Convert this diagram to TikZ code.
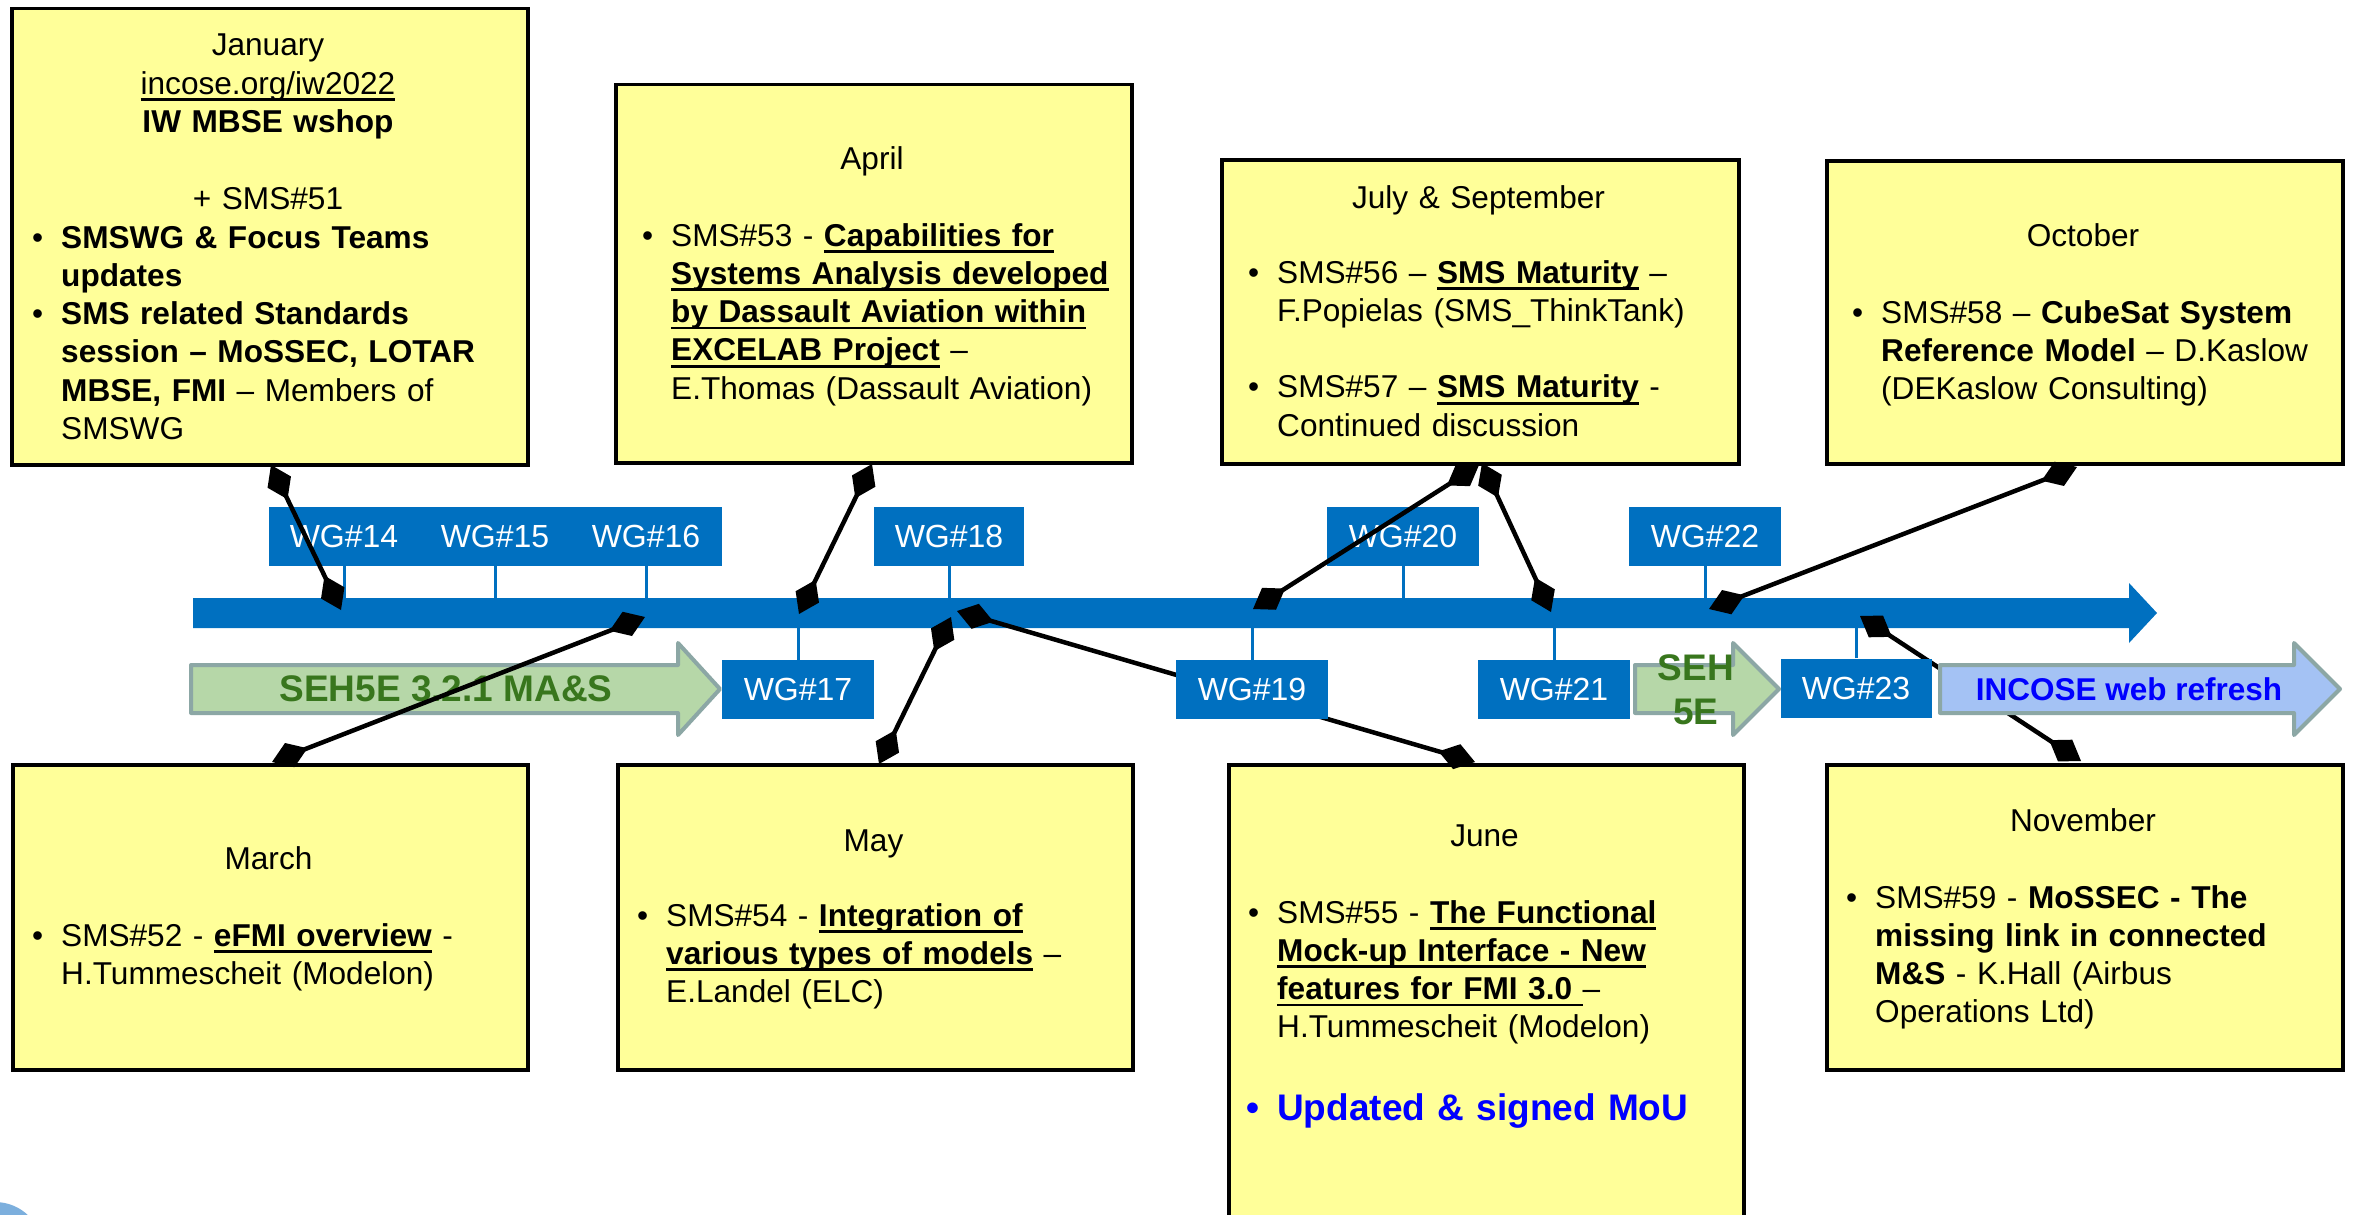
\documentclass[tikz,border=0pt]{standalone}
\usepackage{fontspec}
\setmainfont{Liberation Sans}
\usetikzlibrary{arrows.meta}
\definecolor{wgblue}{HTML}{0070C0}
\definecolor{yfill}{HTML}{FFFF99}
\definecolor{gfill}{HTML}{B6D7A8}
\definecolor{agray}{HTML}{8CA7A5}
\definecolor{dgreen}{HTML}{38761D}
\definecolor{bfill}{HTML}{A4C2F4}
\definecolor{logoblue}{HTML}{5B9BD5}
\newsavebox\ulbox
\newcommand{\myul}[1]{\leavevmode\sbox\ulbox{#1}\rlap{\rule[-6.7pt]{\wd\ulbox}{2.7pt}}\usebox\ulbox}
\newcommand{\bodyfont}{\fontsize{31.6pt}{38.3pt}\selectfont}
\newcommand{\wgfont}{\fontsize{32pt}{38pt}\selectfont}
\newcommand{\bigfont}{\fontsize{37pt}{44pt}\selectfont\bfseries}
\newcommand{\bul}{\leavevmode\llap{•\hspace{18pt}}}
\newcommand{\ub}[1]{\myul{\textbf{#1}}}
\begin{document}
\begin{tikzpicture}[x=1pt,y=-1pt,
  ybox/.style={draw=black, line width=3.5pt, fill=yfill, anchor=north west, inner sep=0pt},
  wgbox/.style={fill=wgblue, inner sep=0pt, minimum height=59pt, minimum width=152pt, text=white, font=\wgfont},
  wglabel/.style={inner sep=0pt, text=white, font=\wgfont},
  headtxt/.style={anchor=base, inner sep=0pt, font=\bodyfont, align=center, text width=480pt},
  listtxt/.style={anchor=base west, inner sep=0pt, font=\bodyfont, align=left, text width=470pt},
  conn/.style={line width=4.5pt, {Diamond[length=38pt,width=26pt]}-{Diamond[length=38pt,width=26pt]}},
  tickline/.style={draw=wgblue, line width=3pt},
  bigarrow/.style={line width=4pt, draw=agray, line join=round}]
\clip (0,0) rectangle (2354,1215);
\fill[white] (0,0) rectangle (2354,1215);
% partial logo
\fill[logoblue!80] (-5,1250) circle (48pt);

% yellow boxes
\node[ybox, minimum width=516pt, minimum height=456pt] (jan) at (10,7) {};
\node[ybox, minimum width=516pt, minimum height=378pt] (apr) at (614,83) {};
\node[ybox, minimum width=517pt, minimum height=304pt] (jul) at (1220,158) {};
\node[ybox, minimum width=516pt, minimum height=303pt] (oct) at (1825,159) {};
\node[ybox, minimum width=515pt, minimum height=305pt] (mar) at (11,763) {};
\node[ybox, minimum width=515pt, minimum height=305pt] (may) at (616,763) {};
\node[ybox, minimum width=515pt, minimum height=500pt] (jun) at (1227,763) {};
\node[ybox, minimum width=516pt, minimum height=305pt] (nov) at (1825,763) {};

% box texts
\node[headtxt] (janH) at (268,56) {January\\ \myul{incose.org/iw2022}\\ \textbf{IW MBSE wshop}\\[38.3pt] + SMS\#51};
\node[listtxt] (janL) at (61,248) {\bul\textbf{SMSWG \& Focus Teams}\\ \textbf{updates}\\ \bul\textbf{SMS related Standards}\\ \textbf{session – MoSSEC, LOTAR}\\ \textbf{MBSE, FMI} – Members of\\ SMSWG};

\node[headtxt] (aprH) at (872,169) {April};
\node[listtxt] (aprL) at (671,246) {\bul SMS\#53 - \ub{Capabilities for}\\ \ub{Systems Analysis developed}\\ \ub{by Dassault Aviation within}\\ \ub{EXCELAB Project} –\\ E.Thomas (Dassault Aviation)};

\node[headtxt] (julH) at (1478.5,208) {July \& September};
\node[listtxt] (julL) at (1277,283) {\bul SMS\#56 – \ub{SMS Maturity} –\\ F.Popielas (SMS\_ThinkTank)\\[38.3pt] \bul SMS\#57 – \ub{SMS Maturity} -\\ Continued discussion};

\node[headtxt] (octH) at (2083,246) {October};
\node[listtxt] (octL) at (1881,323) {\bul SMS\#58 – \textbf{CubeSat System}\\ \textbf{Reference Model} – D.Kaslow\\ (DEKaslow Consulting)};

\node[headtxt] (marH) at (268.5,869) {March};
\node[listtxt] (marL) at (61,946) {\bul SMS\#52 - \ub{eFMI overview} -\\ H.Tummescheit (Modelon)};

\node[headtxt] (mayH) at (873.5,851) {May};
\node[listtxt] (mayL) at (666,926) {\bul SMS\#54 - \ub{Integration of}\\ \ub{various types of models} –\\ E.Landel (ELC)};

\node[headtxt] (junH) at (1484.5,846) {June};
\node[listtxt] (junL) at (1277,923) {\bul SMS\#55 - \ub{The Functional}\\ \ub{Mock-up Interface - New}\\ \ub{features for FMI 3.0\ }–\\ H.Tummescheit (Modelon)};
\node[listtxt, font=\bigfont, text=blue] (mou) at (1277,1120) {\bul Updated \& signed MoU};

\node[headtxt] (novH) at (2083,831) {November};
\node[listtxt] (novL) at (1875,908) {\bul SMS\#59 - \textbf{MoSSEC - The}\\ \textbf{missing link in connected}\\ \textbf{M\&S} - K.Hall (Airbus\\ Operations Ltd)};

% timeline bar
\fill[wgblue] (193,598) -- (2129,598) -- (2129,583) -- (2157,613) -- (2129,643) -- (2129,628) -- (193,628) -- cycle;

% connector end points
\coordinate (c1a) at (271,465);  \coordinate (c1b) at (341,610);
\coordinate (c2a) at (645,617);  \coordinate (c2b) at (272,762);
\coordinate (c3a) at (872,464);  \coordinate (c3b) at (799,614);
\coordinate (c4a) at (951,617);  \coordinate (c4b) at (879,764);
\coordinate (c5a) at (957,611);  \coordinate (c5b) at (1475,762);
\coordinate (c6a) at (1479,465); \coordinate (c6b) at (1253,609);
\coordinate (c7a) at (1482,463); \coordinate (c7b) at (1551,612);
\coordinate (c8a) at (2077,467); \coordinate (c8b) at (1709,609);
\coordinate (c9a) at (1860,616); \coordinate (c9b) at (2081,761);

% connectors hidden behind WG#19 and the web arrow
\draw[conn] (c5a) -- (c5b);
\draw[conn] (c9a) -- (c9b);

% WG boxes
\node[wgbox, minimum width=453pt, anchor=north west] (wg1416) at (269,507) {};
\node[wglabel] (w14) at (344,536.5) {WG\#14};
\node[wglabel] (w15) at (495,536.5) {WG\#15};
\node[wglabel] (w16) at (646,536.5) {WG\#16};
\node[wgbox, minimum width=150pt] (wg18) at (949,536.5) {WG\#18};
\node[wgbox] (wg20) at (1403,536.5) {WG\#20};
\node[wgbox] (wg22) at (1705,536.5) {WG\#22};
\node[wgbox] (wg17) at (798,689.5) {WG\#17};
\node[wgbox] (wg19) at (1252,689.5) {WG\#19};
\node[wgbox] (wg21) at (1554,689.5) {WG\#21};
\node[wgbox, minimum width=151pt] (wg23) at (1856,688) {WG\#23};

% ticks
\foreach \n in {w14,w15,w16,wg18,wg20,wg22}
  \draw[tickline] (\n |- wg20.south) -- ++(0,32);
\foreach \n in {wg17,wg19,wg21,wg23}
  \draw[tickline] (\n.north) -- (\n |- 0,628);

% big arrows
\draw[bigarrow, fill=gfill] (191,665) -- (678,665) -- (678,643) -- (720,689) -- (678,735) -- (678,713) -- (191,713) -- cycle;
\node[font=\bigfont, text=dgreen, inner sep=0pt] (sehT) at (446,689) {SEH5E 3.2.1 MA\&S};
\draw[bigarrow, fill=gfill] (1635,665) -- (1733,665) -- (1733,643) -- (1779,689) -- (1733,735) -- (1733,713) -- (1635,713) -- cycle;
\node[font=\bigfont, text=dgreen, align=center, inner sep=0pt] (seh2T) at (1696,690) {SEH\\5E};
\draw[bigarrow, fill=bfill] (1940,665) -- (2294,665) -- (2294,643) -- (2340,689) -- (2294,735) -- (2294,713) -- (1940,713) -- cycle;
\node[font=\fontsize{31.5pt}{36pt}\selectfont\bfseries, text=blue, inner sep=0pt] (webT) at (2129,689) {INCOSE web refresh};

% remaining connectors
\draw[conn] (c1a) -- (c1b);
\draw[conn] (c2a) -- (c2b);
\draw[conn] (c3a) -- (c3b);
\draw[conn] (c4a) -- (c4b);
\draw[conn] (c6a) -- (c6b);
\draw[conn] (c7a) -- (c7b);
\draw[conn] (c8a) -- (c8b);
\end{tikzpicture}
\end{document}
